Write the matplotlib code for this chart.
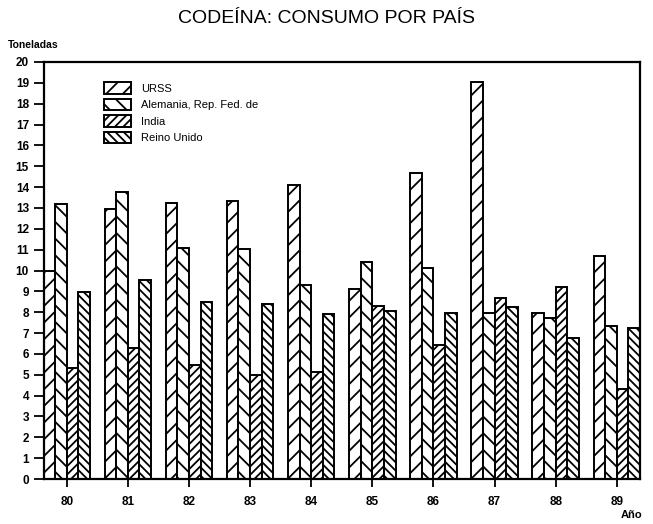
import numpy as np
import matplotlib
matplotlib.use("Agg")
from matplotlib import pyplot as plt

# Consumo de codeína (toneladas) por país, 1980-1989
anios = [80, 81, 82, 83, 84, 85, 86, 87, 88, 89]
urss = [10.0, 12.95, 13.25, 13.35, 14.1, 9.1, 14.7, 19.05, 7.95, 10.7]
alemania = [13.2, 13.75, 11.1, 11.05, 9.3, 10.4, 10.1, 7.95, 7.7, 7.35]
india = [5.3, 6.3, 5.45, 5.0, 5.15, 8.3, 6.45, 8.7, 9.2, 4.3]
reino_unido = [8.95, 9.55, 8.5, 8.4, 7.9, 8.05, 7.95, 8.25, 6.75, 7.25]

series = [
    ("URSS", urss, "//"),
    ("Alemania, Rep. Fed. de", alemania, "\\\\"),
    ("India", india, "////"),
    ("Reino Unido", reino_unido, "\\\\\\\\"),
]

plt.rcParams['font.family'] = ['Liberation Sans', 'DejaVu Sans']
plt.rcParams['hatch.linewidth'] = 1.3

fig = plt.figure(figsize=(6.53, 5.24), dpi=100)
ax = fig.add_axes([43.5 / 653, 45 / 524, 596.5 / 653, 417 / 524])

x = np.array(anios, dtype=float)
w = 0.19
for i, (nombre, vals, h) in enumerate(series):
    ax.bar(x + (i - 1.5) * w, vals, width=w, facecolor="white",
           edgecolor="black", linewidth=1.4, hatch=h, label=nombre)

ax.set_xlim(80 - 2 * w, 89 + 2 * w)
ax.set_ylim(0, 20)
ax.set_yticks(range(0, 21))
ax.set_xticks(anios)
ax.set_xticklabels([str(a) for a in anios])
ax.tick_params(axis="both", direction="out", width=1.3, labelsize=8.5)
ax.tick_params(axis="y", length=7)
ax.tick_params(axis="x", length=6, pad=6)
for lab in ax.get_xticklabels() + ax.get_yticklabels():
    lab.set_fontweight("bold")
for s in ax.spines.values():
    s.set_linewidth(1.6)

leg = ax.legend(loc="upper left", bbox_to_anchor=(0.085, 0.975), frameon=False,
                fontsize=8, handlelength=2.4, handleheight=1.2,
                labelspacing=0.45, handletextpad=0.9)

fig.text(0.5, 0.965, "CODEÍNA: CONSUMO POR PAÍS", ha="center", va="center",
         fontsize=14)
fig.text(8 / 653, 1 - 45 / 524, "Toneladas", ha="left", va="center",
         fontsize=7.5, fontweight="bold")
fig.text(632 / 653, 1 - 515 / 524, "Año", ha="center", va="center",
         fontsize=8, fontweight="bold")

fig.savefig("out.png", dpi=100)
